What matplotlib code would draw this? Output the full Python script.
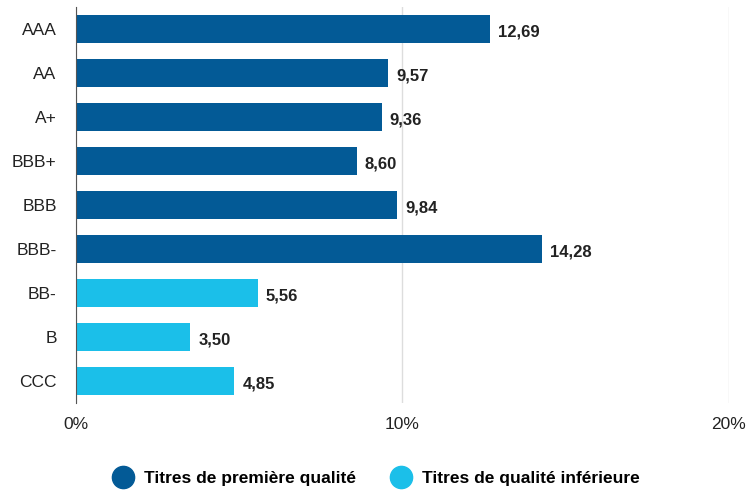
import matplotlib.pyplot as plt
from matplotlib.lines import Line2D

ratings = ["AAA", "AA", "A+", "BBB+", "BBB", "BBB-", "BB-", "B", "CCC"]
values = [12.69, 9.57, 9.36, 8.60, 9.84, 14.28, 5.56, 3.50, 4.85]
groups = ["ig", "ig", "ig", "ig", "ig", "ig", "hy", "hy", "hy"]

dark = "#035a96"
light = "#1bbfe9"
colors = [dark if g == "ig" else light for g in groups]

plt.rcParams['font.family'] = ['Liberation Sans', 'DejaVu Sans']

fig = plt.figure(figsize=(7.46, 4.92), dpi=100)
ax = fig.add_axes([0.102, 0.181, 0.875, 0.805])

y = range(len(ratings))
ax.barh(y, values, height=0.62, color=colors, zorder=3)
for i, v in enumerate(values):
    ax.text(v + 0.25, i + 0.08, f"{v:.2f}".replace(".", ","), va="center", ha="left",
            fontsize=12, fontweight="bold", color="#222222")

ax.set_xlim(0, 20)
ax.set_ylim(len(ratings) - 0.5, -0.5)
ax.set_yticks(list(y))
ax.set_yticklabels(ratings, fontsize=12.5, color="#222222")
ax.set_xticks([0, 10, 20])
ax.set_xticklabels(["0%", "10%", "20%"], fontsize=12.5, color="#222222")
ax.tick_params(axis="both", length=0)
ax.tick_params(axis="y", pad=14)
ax.tick_params(axis="x", pad=10)
ax.grid(axis="x", color="#dddddd", linewidth=1, zorder=0)
for s in ["top", "right", "bottom"]:
    ax.spines[s].set_visible(False)
ax.spines["left"].set_color("#555555")
ax.spines["left"].set_zorder(4)

handles = [
    Line2D([], [], marker="o", linestyle="", markersize=16, color=dark),
    Line2D([], [], marker="o", linestyle="", markersize=16, color=light),
]
fig.legend(handles, ["Titres de première qualité", "Titres de qualité inférieure"],
           loc="center", bbox_to_anchor=(0.5, 0.027), ncol=2, frameon=False,
           prop={"size": 12.5, "weight": "bold"}, handletextpad=0.2, columnspacing=1.6)

fig.savefig("out.png", dpi=100)
